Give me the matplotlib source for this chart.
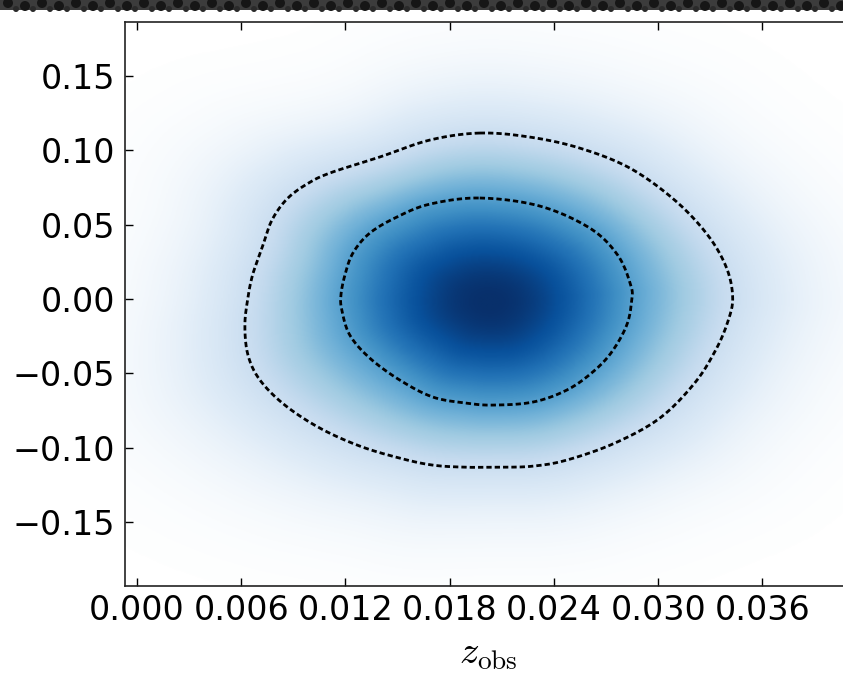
import numpy as np
import matplotlib
matplotlib.use("Agg")
import matplotlib.pyplot as plt
from matplotlib.colors import PowerNorm, LinearSegmentedColormap
from matplotlib.patches import Rectangle, Circle

plt.rcParams["mathtext.fontset"] = "cm"

# Posterior peak location
peak_z, peak_c = 0.0203, -0.002

# 95% credible contour (z_obs, c)
outer_z = [0.01973, 0.02261, 0.02548, 0.02836, 0.03095, 0.03285, 0.03394, 0.03429,
           0.03400, 0.03331, 0.03210, 0.03009, 0.02750, 0.02474, 0.02278, 0.02088,
           0.01898, 0.01703, 0.01513, 0.01283, 0.01053, 0.00851, 0.00708, 0.00639,
           0.00621, 0.00639, 0.00662, 0.00690, 0.00725, 0.00777, 0.00863, 0.00978,
           0.01110, 0.01398, 0.01686]
outer_c = [0.1117, 0.1090, 0.1016, 0.0882, 0.0666, 0.0431, 0.0209, 0.0007,
           -0.0155, -0.0343, -0.0565, -0.0801, -0.0969, -0.1083, -0.1124, -0.1131,
           -0.1131, -0.1117, -0.1070, -0.0989, -0.0868, -0.0713, -0.0545, -0.0377,
           -0.0175, 0.0013, 0.0148, 0.0249, 0.0363, 0.0532, 0.0673, 0.0774,
           0.0848, 0.0956, 0.1070]

# 68% credible contour (z_obs, c)
inner_z = [0.01973, 0.02318, 0.02606, 0.02767, 0.02842, 0.02848, 0.02819, 0.02732,
           0.02623, 0.02474, 0.02278, 0.02048, 0.01898, 0.01703, 0.01513, 0.01340,
           0.01225, 0.01179, 0.01174, 0.01197, 0.01243, 0.01340, 0.01496, 0.01686]
inner_c = [0.0680, 0.0626, 0.0478, 0.0296, 0.0094, -0.0007, -0.0175, -0.0357,
           -0.0491, -0.0612, -0.0693, -0.0713, -0.0700, -0.0659, -0.0545, -0.0397,
           -0.0242, -0.0074, 0.0027, 0.0162, 0.0310, 0.0444, 0.0552, 0.0639]

xticks = [0.000, 0.006, 0.012, 0.018, 0.024, 0.030, 0.036]
yticks = [-0.15, -0.10, -0.05, 0.00, 0.05, 0.10, 0.15]
xlim = (-0.00069, 0.0411)
ylim = (-0.193, 0.1864)


def closed_spline(xs, ys, per_seg=20):
    """Periodic Catmull-Rom curve through the contour vertices."""
    P = np.column_stack([xs, ys])
    n = len(P)
    t = np.linspace(0, 1, per_seg, endpoint=False)[:, None]
    out = []
    for i in range(n):
        p0, p1, p2, p3 = P[(i - 1) % n], P[i], P[(i + 1) % n], P[(i + 2) % n]
        seg = 0.5 * ((2 * p1) + (-p0 + p2) * t
                     + (2 * p0 - 5 * p1 + 4 * p2 - p3) * t ** 2
                     + (-p0 + 3 * p1 - 3 * p2 + p3) * t ** 3)
        out.append(seg)
    out.append(P[:1])
    out = np.vstack(out)
    return out[:, 0], out[:, 1]


def radial_profile(zs, cs, scale_z, scale_c):
    """Angle-sorted radius of a closed contour around the peak, in scaled units."""
    u = (np.asarray(zs) - peak_z) / scale_z
    v = (np.asarray(cs) - peak_c) / scale_c
    ang = np.arctan2(v, u)
    rad = np.hypot(u, v)
    order = np.argsort(ang)
    ang, rad = ang[order], rad[order]
    ang = np.concatenate([ang - 2 * np.pi, ang, ang + 2 * np.pi])
    rad = np.concatenate([rad, rad, rad])
    return ang, rad


outer_sz, outer_sc = closed_spline(outer_z, outer_c)
inner_sz, inner_sc = closed_spline(inner_z, inner_c)

# Density field shaped by the two credible contours
sz, sc = 0.0056, 0.046
zg = np.linspace(xlim[0], xlim[1], 600)
cg = np.linspace(ylim[0], ylim[1], 600)
Z, C = np.meshgrid(zg, cg)
U = (Z - peak_z) / sz
V = (C - peak_c) / sc
theta = np.arctan2(V, U)
dist = np.hypot(U, V)
a_in, r_in_pts = radial_profile(inner_sz[:-1], inner_sc[:-1], sz, sc)
a_out, r_out_pts = radial_profile(outer_sz[:-1], outer_sc[:-1], sz, sc)
r_in = np.interp(theta, a_in, r_in_pts)
r_out = np.interp(theta, a_out, r_out_pts)
q68, q95 = 1.515, 2.448
s = np.where(dist <= r_in, q68 * dist / r_in,
             q68 + (dist - r_in) / (r_out - r_in) * (q95 - q68))
density = np.exp(-0.5 * s ** 2)

# Blues, fading to pure white at zero density
blues = plt.get_cmap("Blues")
cmap = LinearSegmentedColormap.from_list(
    "white_blues", [(0.0, "white")] + [(v, blues(v)) for v in np.linspace(0.12, 1, 30)])

fig = plt.figure(figsize=(8.43, 6.79), dpi=100)
ax = fig.add_axes([125 / 843, 1 - 586 / 679, (851 - 125) / 843, (586 - 22) / 679])

ax.imshow(density, origin="lower", extent=(xlim[0], xlim[1], ylim[0], ylim[1]),
          cmap=cmap, norm=PowerNorm(gamma=0.5, vmin=0, vmax=1),
          aspect="auto", interpolation="bilinear")

for zs, cs in ((outer_sz, outer_sc), (inner_sz, inner_sc)):
    ax.plot(zs, cs, color="black", lw=2.0, linestyle=(0, (1.9, 1.1)))

ax.set_xlim(*xlim)
ax.set_ylim(*ylim)
ax.set_xticks(xticks)
ax.set_yticks(yticks)
ax.set_xticklabels([f"{t:.3f}" for t in xticks])
ax.set_yticklabels([f"{t:.2f}".replace("-", "\u2212") for t in yticks])
ax.tick_params(direction="in", length=6, width=1, top=True, right=True,
               labelsize=24, colors="black")
ax.tick_params(axis="x", pad=6)
ax.tick_params(axis="y", pad=7)
for sp in ax.spines.values():
    sp.set_linewidth(1.2)
    sp.set_color("#222222")

ax.set_xlabel(r"$z_{\rm obs}$", fontsize=28, labelpad=5)

# y-axis label, mostly beyond the left edge
fig.text(3 / 843, 1 - 301 / 679, r"$c$", rotation=90, ha="right", va="center",
         fontsize=28)

# dark textured strip along the top edge
fig.patches.append(Rectangle((0, 1 - 10 / 679), 1, 10 / 679, transform=fig.transFigure,
                             facecolor="#3c3c3c", edgecolor="none", zorder=5))
for i in range(52):
    fig.patches.append(Circle((i * 17 + 8.0, 679 - (6.0 if i % 2 else 3.0)), 5.0,
                              transform=None, facecolor="#161616", edgecolor="none",
                              zorder=6))
    fig.patches.append(Circle((i * 17 + 16.0, 679 - 9.0), 3.0, transform=None,
                              facecolor="#2a2a2a", edgecolor="none", zorder=6))

fig.savefig("out.png", dpi=100)
